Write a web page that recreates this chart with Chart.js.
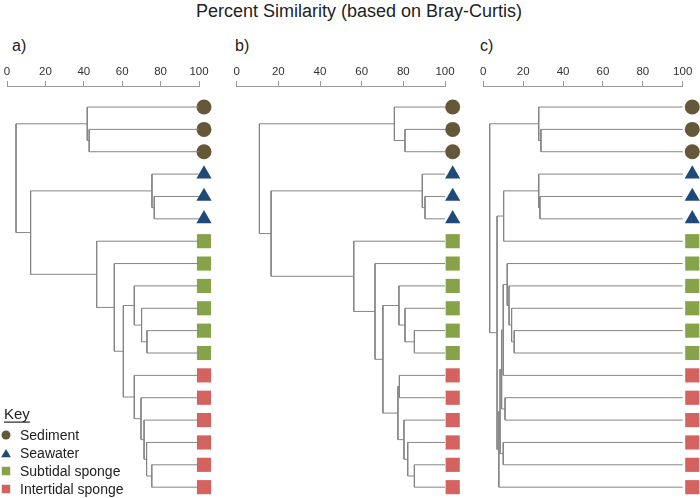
<!DOCTYPE html>
<html>
<head>
<meta charset="utf-8">
<script src="https://cdn.jsdelivr.net/npm/chart.js@4.4.1/dist/chart.umd.min.js"></script>
<style>
  body { margin: 0; background: #fff; font-family: "Liberation Sans", Arial, sans-serif; }
  #wrap { position: relative; width: 700px; height: 498px; overflow: hidden; }
  .panel { position: absolute; top: 0; }
  #title { position: absolute; left: 0; width: 718px; top: 1px; text-align: center; font-size: 18px; color: #222; }
  .lab { position: absolute; top: 37px; font-size: 16px; color: #222; }
</style>
</head>
<body>
<div id="wrap">
  <div id="title">Percent Similarity (based on Bray-Curtis)</div>
  <div class="lab" style="left:12px">a)</div>
  <div class="lab" style="left:235px">b)</div>
  <div class="lab" style="left:480px">c)</div>
  <canvas id="chartA" class="panel" style="left:0" width="230" height="498"></canvas>
  <canvas id="chartB" class="panel" style="left:230px" width="235" height="498"></canvas>
  <canvas id="chartC" class="panel" style="left:465px" width="235" height="498"></canvas>
</div>
<script>
// Sample groups, one per leaf, top to bottom
const groupNames = ['Sediment', 'Seawater', 'Subtidal sponge', 'Intertidal sponge'];
const leafGroups = [0, 0, 0, 1, 1, 1, 2, 2, 2, 2, 2, 2, 3, 3, 3, 3, 3, 3];

// Axis ticks (percent similarity)
const tickValues = [0, 20, 40, 60, 80, 100];

// Linkage tables: [child, child, similarity]; leaves are 0-17, merge k becomes node 18+k
const mergesA = [
  [1, 2, 42.8], [0, 18, 41.8],
  [4, 5, 76.7], [3, 20, 75.5],
  [10, 11, 72.9], [9, 22, 70.1], [8, 23, 66.3],
  [16, 17, 75.4], [15, 25, 72.7], [14, 26, 71.4], [13, 27, 69.8], [12, 28, 66.3],
  [24, 29, 60.6], [7, 30, 55.9], [6, 31, 46.7],
  [21, 32, 12.3], [19, 33, 4.7]
];
const mergesB = [
  [1, 2, 80.8], [0, 18, 75.7],
  [4, 5, 90.4], [3, 20, 89.1],
  [10, 11, 85.3], [9, 22, 80.8], [8, 23, 77.9],
  [12, 13, 78.1], [16, 17, 85.3], [15, 26, 82.1], [14, 27, 80.3], [25, 28, 77.4],
  [24, 29, 70.2], [7, 30, 66.4], [6, 31, 56.2],
  [21, 32, 16.5], [19, 33, 10.9]
];
const mergesC = [
  [1, 2, 28.9], [0, 18, 27.8],
  [4, 5, 28.4], [3, 20, 27.8],
  [21, 6, 10.2],
  [10, 11, 15.5], [9, 23, 14.2], [8, 24, 12.9], [7, 25, 12.0],
  [26, 12, 10.0], [13, 14, 10.9], [27, 28, 9.2], [15, 16, 10.0], [29, 30, 8.4],
  [31, 17, 7.8], [22, 32, 6.9], [19, 33, 3.2]
];

// Marker styling per group
const groupStyles = ['circle', 'triangle', 'rect', 'rect'];
const groupColors = ['#645838', '#1f4a78', '#87a34a', '#d4625e'];
const groupRadius = [7.5, 8.8, 10, 10];

const lineColor = '#858585';
const axisColor = '#9a9a9a';
const font = '"Liberation Sans", Arial, sans-serif';

// Build line segments for a dendrogram from a linkage table
function buildLines(merges) {
  const pos = leafGroups.map((g, i) => ({ x: 100, y: i + 1 }));
  const pts = [];
  merges.forEach(m => {
    const a = pos[m[0]], b = pos[m[1]], h = m[2];
    pts.push({ x: a.x, y: a.y }, { x: h, y: a.y }, { x: h, y: b.y }, { x: b.x, y: b.y }, { x: h, y: null });
    pos.push({ x: h, y: (a.y + b.y) / 2 });
  });
  return pts;
}

// Key drawn in the bottom-left of panel a
const keyPlugin = {
  id: 'key',
  afterDraw(chart) {
    const ctx = chart.ctx;
    ctx.save();
    ctx.fillStyle = '#222';
    ctx.textBaseline = 'alphabetic';
    ctx.font = '15px ' + font;
    ctx.fillText('Key', 4, 419);
    ctx.fillRect(4, 421.5, ctx.measureText('Key').width, 1.2);
    ctx.font = '14px ' + font;
    ctx.textBaseline = 'middle';
    groupNames.forEach((name, i) => {
      const y = 435 + i * 18;
      ctx.fillStyle = groupColors[i];
      Chart.helpers.drawPoint(ctx, {
        pointStyle: groupStyles[i],
        radius: groupStyles[i] === 'rect' ? 6 : (groupStyles[i] === 'triangle' ? 5.6 : 4.5),
        rotation: 0,
        borderWidth: 0
      }, 6, groupStyles[i] === 'triangle' ? y + 1.5 : y);
      ctx.fillStyle = '#222';
      ctx.fillText(name, 20, y + 1);
    });
    ctx.restore();
  }
};

function makePanel(id, merges, padLeft, padRight, markerX, withKey) {
  new Chart(document.getElementById(id), {
    data: {
      datasets: [
        {
          type: 'line',
          data: buildLines(merges),
          borderColor: lineColor,
          borderWidth: 1,
          pointRadius: 0,
          spanGaps: false,
          fill: false,
          tension: 0
        },
        {
          type: 'scatter',
          data: leafGroups.map((g, i) => ({ x: markerX, y: i + 1 })),
          pointStyle: leafGroups.map(g => groupStyles[g]),
          backgroundColor: leafGroups.map(g => groupColors[g]),
          pointRadius: leafGroups.map(g => groupRadius[g]),
          // invisible border widens the area check so markers past 100 still draw
          borderWidth: 8,
          borderColor: 'rgba(0,0,0,0)',
          clip: false
        }
      ]
    },
    options: {
      responsive: false,
      animation: false,
      layout: { autoPadding: false, padding: { top: 50, left: padLeft, right: padRight, bottom: 3 } },
      plugins: { legend: { display: false }, tooltip: { enabled: false } },
      scales: {
        x: {
          type: 'linear',
          position: 'top',
          afterDataLimits: s => { s.min = 0; s.max = 100; },
          afterBuildTicks: s => { s.ticks = tickValues.map(v => ({ value: v })); },
          afterFit: s => { s.height = 36; },
          ticks: { color: '#333', font: { family: font, size: 11.5 }, padding: 2, maxRotation: 0 },
          grid: { drawOnChartArea: false, tickLength: 5, color: axisColor, tickColor: axisColor },
          border: { color: axisColor, width: 1 }
        },
        y: {
          type: 'linear',
          display: false,
          reverse: true,
          min: 0.06,
          max: 18.35
        }
      }
    },
    plugins: withKey ? [keyPlugin] : []
  });
}

makePanel('chartA', mergesA, 7, 31, 102.6, true);
makePanel('chartB', mergesB, 6.7, 20, 103.7, false);
makePanel('chartC', mergesC, 18.3, 17.3, 104.8, false);
</script>
</body>
</html>
